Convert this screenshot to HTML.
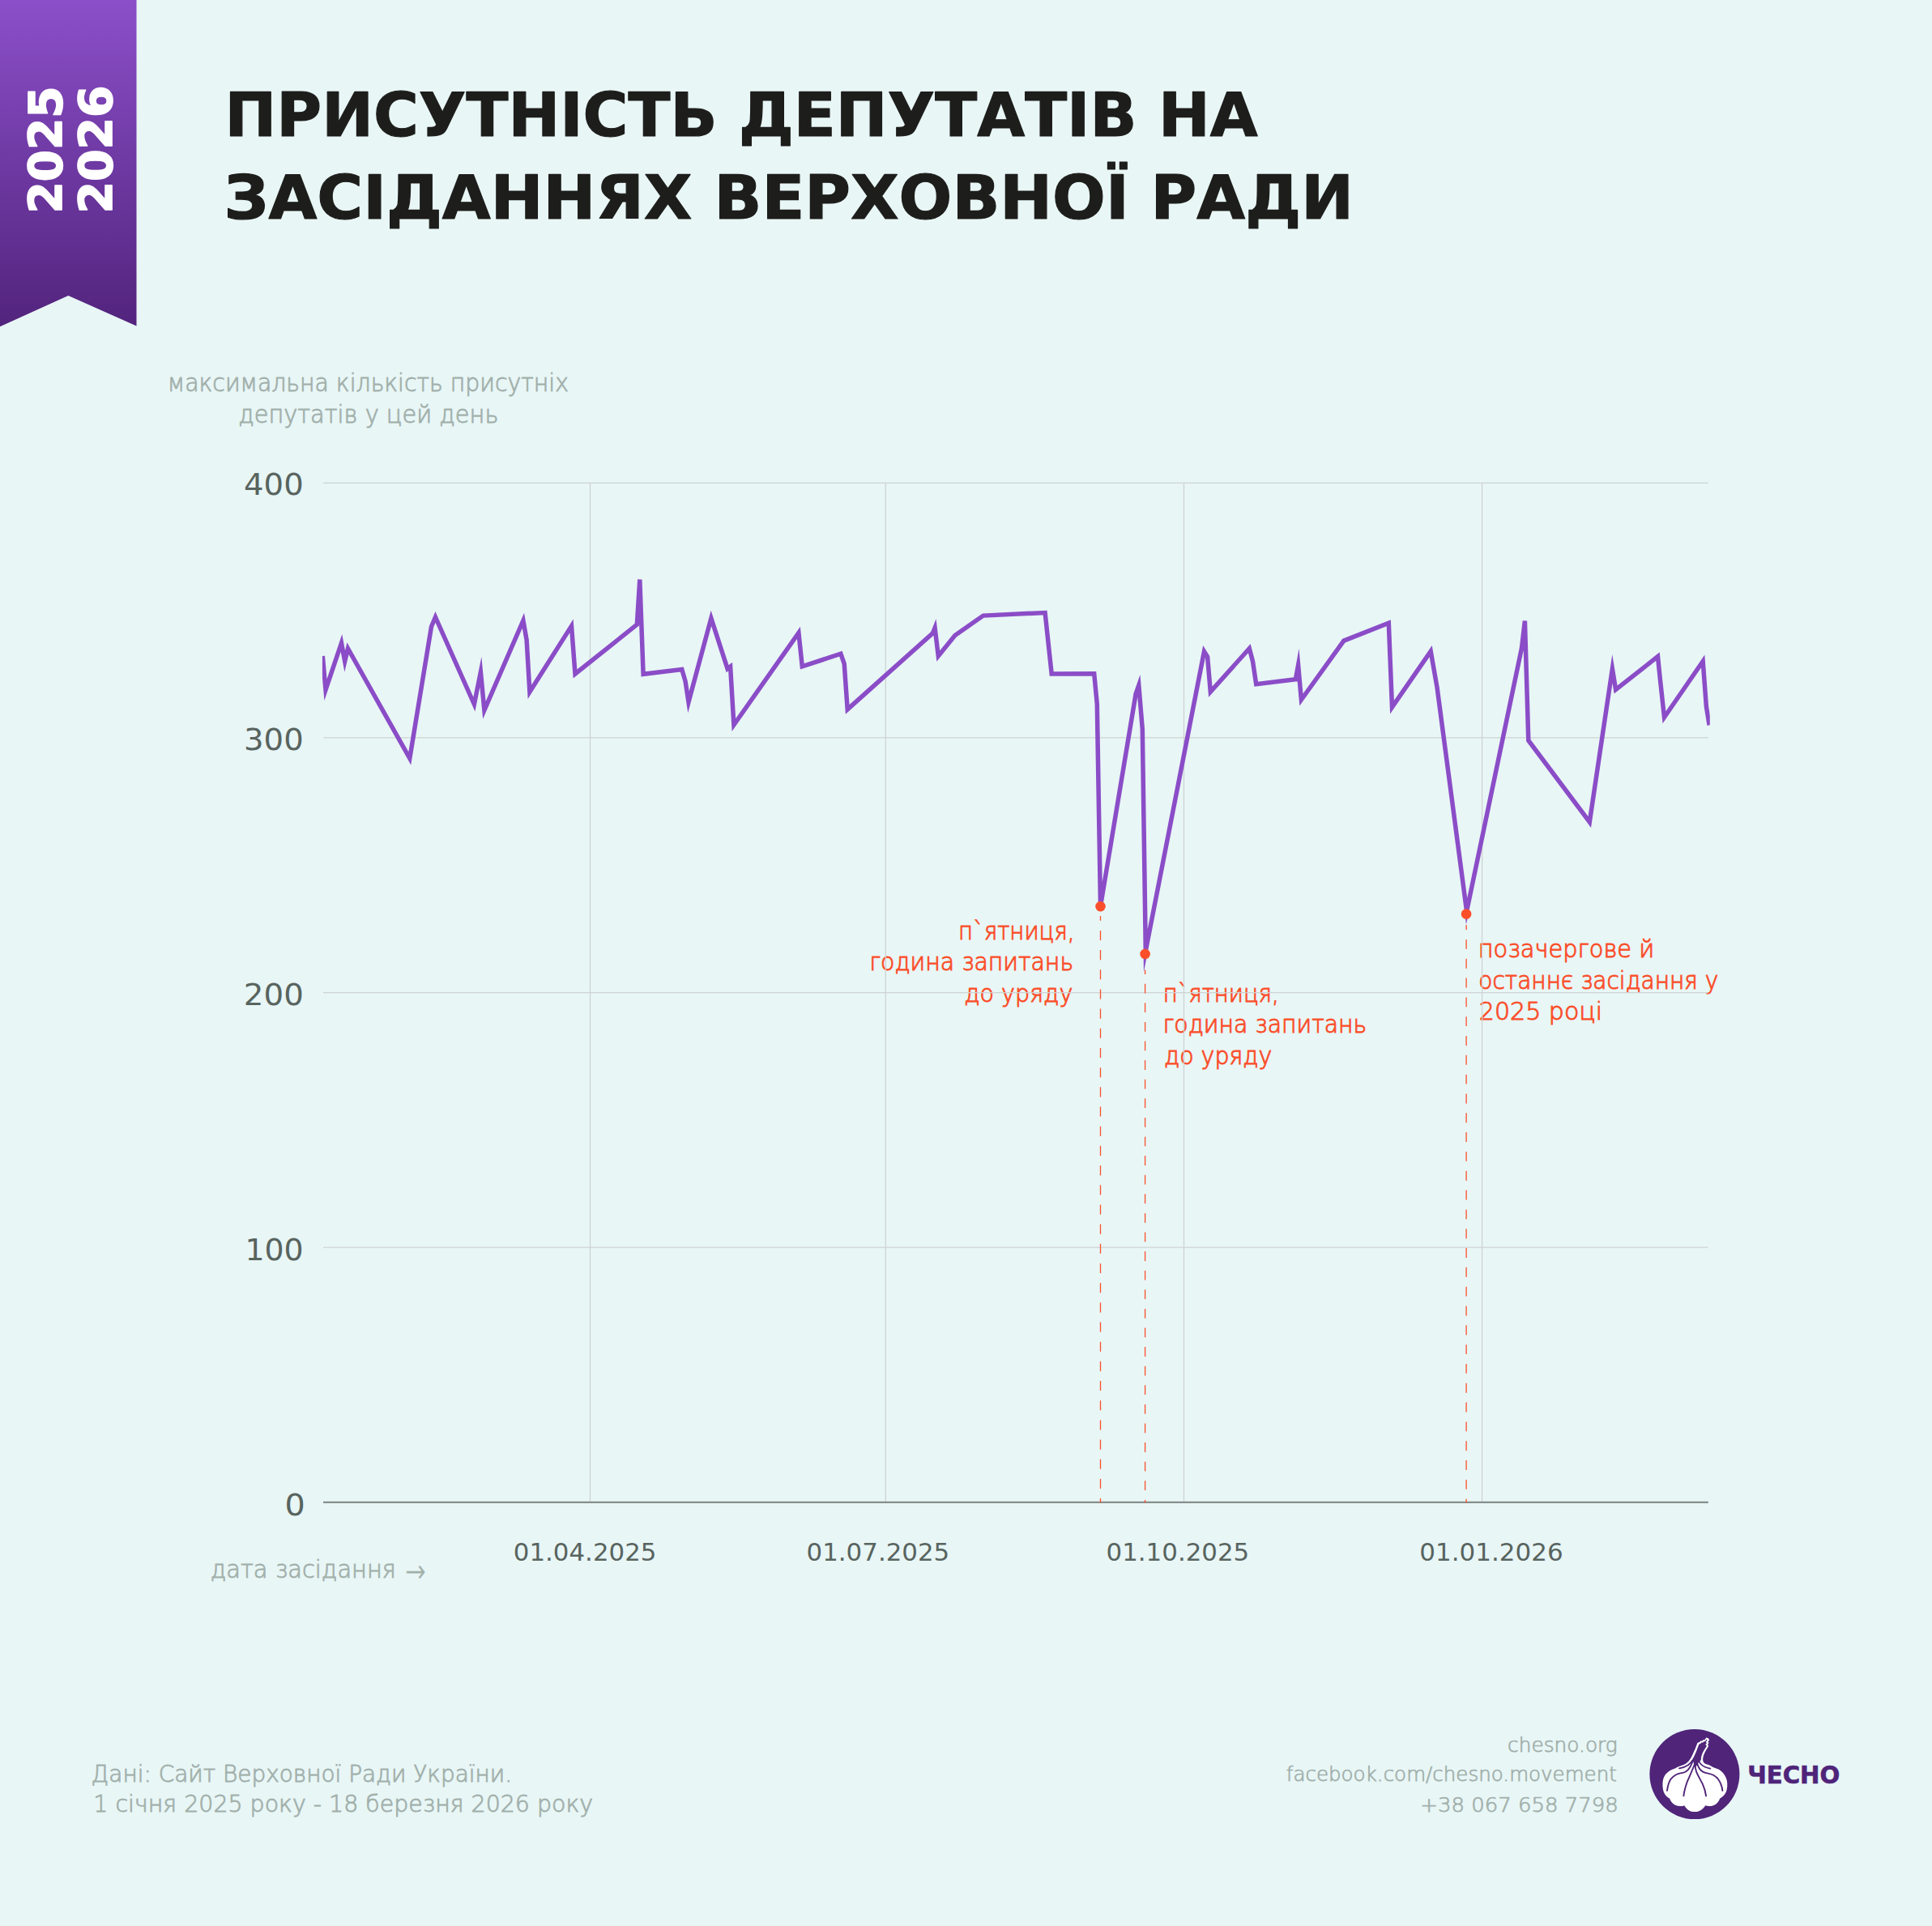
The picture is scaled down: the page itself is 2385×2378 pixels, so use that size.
<!DOCTYPE html>
<html lang="uk"><head><meta charset="utf-8"><title>Присутність депутатів на засіданнях Верховної Ради</title>
<style>html,body{margin:0;padding:0;background:#e8f6f6}body{width:2385px;height:2378px;overflow:hidden}svg{display:block}text{font-family:"DejaVu Sans","Liberation Sans",sans-serif}</style></head><body>
<svg width="2385" height="2378" viewBox="0 0 2385 2378">
<defs><linearGradient id="rg" x1="0" y1="0" x2="0" y2="1"><stop offset="0" stop-color="#8b4fc9"/><stop offset="1" stop-color="#52247d"/></linearGradient><clipPath id="cp"><rect x="397.9" y="500" width="1712.9" height="1400"/></clipPath></defs>
<rect width="2385" height="2378" fill="#e8f6f6"/>
<path d="M0 0H168.5V402.6L84.3 365L0 403.3Z" fill="url(#rg)"/>
<g transform="translate(77.2 263.4) rotate(-90)"><text x="0" y="0" font-size="57.4" font-weight="bold" fill="#fff" stroke="#fff" stroke-width="1.7" stroke-linejoin="round" textLength="157" lengthAdjust="spacingAndGlyphs">2025</text></g>
<g transform="translate(138.6 263.4) rotate(-90)"><text x="0" y="0" font-size="57.4" font-weight="bold" fill="#fff" stroke="#fff" stroke-width="1.7" stroke-linejoin="round" textLength="158" lengthAdjust="spacingAndGlyphs">2026</text></g>
<text x="1183.03" y="1159.80" font-size="30.0" font-weight="200" fill="#fb4f2b" stroke="#fb4f2b" stroke-width="1.00" stroke-linejoin="round" textLength="143.51" lengthAdjust="spacingAndGlyphs">п`ятниця,</text>
<text x="1073.21" y="1198.10" font-size="30.0" font-weight="200" fill="#fb4f2b" stroke="#fb4f2b" stroke-width="1.00" stroke-linejoin="round" textLength="251.88" lengthAdjust="spacingAndGlyphs">година запитань</text>
<text x="1190.13" y="1237.20" font-size="30.0" font-weight="200" fill="#fb4f2b" stroke="#fb4f2b" stroke-width="1.00" stroke-linejoin="round" textLength="134.23" lengthAdjust="spacingAndGlyphs">до уряду</text>
<text x="1435.75" y="1237.00" font-size="30.0" font-weight="200" fill="#fb4f2b" stroke="#fb4f2b" stroke-width="1.00" stroke-linejoin="round" textLength="142.89" lengthAdjust="spacingAndGlyphs">п`ятниця,</text>
<text x="1435.48" y="1274.90" font-size="30.0" font-weight="200" fill="#fb4f2b" stroke="#fb4f2b" stroke-width="1.00" stroke-linejoin="round" textLength="251.74" lengthAdjust="spacingAndGlyphs">година запитань</text>
<text x="1436.88" y="1313.50" font-size="30.0" font-weight="200" fill="#fb4f2b" stroke="#fb4f2b" stroke-width="1.00" stroke-linejoin="round" textLength="133.56" lengthAdjust="spacingAndGlyphs">до уряду</text>
<text x="1824.64" y="1182.20" font-size="30.0" font-weight="200" fill="#fb4f2b" stroke="#fb4f2b" stroke-width="1.00" stroke-linejoin="round" textLength="217.70" lengthAdjust="spacingAndGlyphs">позачергове й</text>
<text x="1825.37" y="1220.50" font-size="30.0" font-weight="200" fill="#fb4f2b" stroke="#fb4f2b" stroke-width="1.00" stroke-linejoin="round" textLength="295.99" lengthAdjust="spacingAndGlyphs">останнє засідання у</text>
<text x="1825.80" y="1259.00" font-size="30.0" font-weight="200" fill="#fb4f2b" stroke="#fb4f2b" stroke-width="1.00" stroke-linejoin="round" textLength="152.29" lengthAdjust="spacingAndGlyphs">2025 році</text>
<line x1="399.0" x2="2108.8" y1="596.40" y2="596.40" stroke="#cfd3d2" stroke-width="1.3"/>
<line x1="399.0" x2="2108.8" y1="910.97" y2="910.97" stroke="#cfd3d2" stroke-width="1.3"/>
<line x1="399.0" x2="2108.8" y1="1225.55" y2="1225.55" stroke="#cfd3d2" stroke-width="1.3"/>
<line x1="399.0" x2="2108.8" y1="1540.12" y2="1540.12" stroke="#cfd3d2" stroke-width="1.3"/>
<line x1="728.5" x2="728.5" y1="596.40" y2="1854.70" stroke="#cfd3d2" stroke-width="1.3"/>
<line x1="1093.3" x2="1093.3" y1="596.40" y2="1854.70" stroke="#cfd3d2" stroke-width="1.3"/>
<line x1="1461.5" x2="1461.5" y1="596.40" y2="1854.70" stroke="#cfd3d2" stroke-width="1.3"/>
<line x1="1829.6" x2="1829.6" y1="596.40" y2="1854.70" stroke="#cfd3d2" stroke-width="1.3"/>
<line x1="399.0" x2="2108.8" y1="1854.80" y2="1854.80" stroke="#868f8c" stroke-width="2.2"/>
<line x1="1358.50" x2="1358.50" y1="1131.00" y2="1855.40" stroke="#fb4f2b" stroke-width="1.3" stroke-dasharray="12.09 12.09" stroke-dashoffset="6.30"/>
<line x1="1413.60" x2="1413.60" y1="1197.50" y2="1855.40" stroke="#fb4f2b" stroke-width="1.3" stroke-dasharray="11.80 11.80" stroke-dashoffset="6.40"/>
<line x1="1810.10" x2="1810.10" y1="1142.00" y2="1855.40" stroke="#fb4f2b" stroke-width="1.3" stroke-dasharray="11.91 11.91" stroke-dashoffset="5.90"/>
<text x="277.59" y="167.50" font-size="74.9" font-weight="bold" fill="#1d1d1b" stroke="#1d1d1b" stroke-width="1.20" stroke-linejoin="round" textLength="1275.15" lengthAdjust="spacingAndGlyphs">ПРИСУТНІСТЬ ДЕПУТАТІВ НА</text>
<text x="276.51" y="270.30" font-size="74.9" font-weight="bold" fill="#1d1d1b" stroke="#1d1d1b" stroke-width="1.20" stroke-linejoin="round" textLength="1394.39" lengthAdjust="spacingAndGlyphs">ЗАСІДАННЯХ ВЕРХОВНОЇ РАДИ</text>
<text x="206.81" y="483.10" font-size="29.6" font-weight="200" fill="#a2b0ab" stroke="#a2b0ab" stroke-width="0.85" stroke-linejoin="round" textLength="495.09" lengthAdjust="spacingAndGlyphs">максимальна кількість присутніх</text>
<text x="294.15" y="522.10" font-size="29.6" font-weight="200" fill="#a2b0ab" stroke="#a2b0ab" stroke-width="0.85" stroke-linejoin="round" textLength="321.29" lengthAdjust="spacingAndGlyphs">депутатів у цей день</text>
<text x="301.09" y="611.45" font-size="37.5" fill="#58645f" textLength="73.60" lengthAdjust="spacingAndGlyphs">400</text>
<text x="301.07" y="926.15" font-size="37.5" fill="#58645f" textLength="73.61" lengthAdjust="spacingAndGlyphs">300</text>
<text x="300.86" y="1241.15" font-size="37.5" fill="#58645f" textLength="73.92" lengthAdjust="spacingAndGlyphs">200</text>
<text x="302.43" y="1556.15" font-size="37.5" fill="#58645f" textLength="72.30" lengthAdjust="spacingAndGlyphs">100</text>
<text x="351.45" y="1871.15" font-size="37.5" fill="#58645f" textLength="25.26" lengthAdjust="spacingAndGlyphs">0</text>
<text x="633.82" y="1927.00" font-size="30.9" fill="#58645f" textLength="176.60" lengthAdjust="spacingAndGlyphs">01.04.2025</text>
<text x="995.55" y="1927.00" font-size="30.9" fill="#58645f" textLength="176.67" lengthAdjust="spacingAndGlyphs">01.07.2025</text>
<text x="1365.55" y="1927.00" font-size="30.9" fill="#58645f" textLength="176.67" lengthAdjust="spacingAndGlyphs">01.10.2025</text>
<text x="1752.29" y="1927.00" font-size="30.9" fill="#58645f" textLength="177.36" lengthAdjust="spacingAndGlyphs">01.01.2026</text>
<text x="259.74" y="1948.40" font-size="29.6" font-weight="200" fill="#a2b0ab" stroke="#a2b0ab" stroke-width="0.85" stroke-linejoin="round" textLength="229.22" lengthAdjust="spacingAndGlyphs">дата засідання</text>
<text x="500.47" y="1952.80" font-size="38.0" font-weight="200" fill="#a2b0ab" stroke="#a2b0ab" stroke-width="0.85" stroke-linejoin="round" textLength="24.86" lengthAdjust="spacingAndGlyphs">→</text>
<text x="112.58" y="2199.60" font-size="28.5" font-weight="200" fill="#a2b0ab" stroke="#a2b0ab" stroke-width="0.85" stroke-linejoin="round" textLength="519.50" lengthAdjust="spacingAndGlyphs">Дані: Сайт Верховної Ради України.</text>
<text x="115.31" y="2236.80" font-size="28.5" font-weight="200" fill="#a2b0ab" stroke="#a2b0ab" stroke-width="0.85" stroke-linejoin="round" textLength="616.86" lengthAdjust="spacingAndGlyphs">1 січня 2025 року - 18 березня 2026 року</text>
<text x="1861.12" y="2163.30" font-size="25.2" font-weight="200" fill="#a2b0ab" stroke="#a2b0ab" stroke-width="0.75" stroke-linejoin="round" textLength="135.56" lengthAdjust="spacingAndGlyphs">chesno.org</text>
<text x="1587.75" y="2198.60" font-size="25.2" font-weight="200" fill="#a2b0ab" stroke="#a2b0ab" stroke-width="0.75" stroke-linejoin="round" textLength="408.14" lengthAdjust="spacingAndGlyphs">facebook.com/chesno.movement</text>
<text x="1753.32" y="2236.60" font-size="25.2" font-weight="200" fill="#a2b0ab" stroke="#a2b0ab" stroke-width="0.75" stroke-linejoin="round" textLength="244.40" lengthAdjust="spacingAndGlyphs">+38 067 658 7798</text>
<text x="2157.20" y="2201.90" font-size="30.8" font-weight="bold" fill="#4f2479" stroke="#4f2479" stroke-width="0.60" stroke-linejoin="round" textLength="114.13" lengthAdjust="spacingAndGlyphs">ЧЕСНО</text>
<polyline clip-path="url(#cp)" fill="none" stroke="#8b4dc7" stroke-width="5.5" stroke-linejoin="miter" stroke-miterlimit="10" points="398.3,809.9 402.0,851.7 421.5,793.9 425.7,816.5 429.5,800.7 505.8,936.4 532.5,773.8 537.5,762.0 585.4,869.6 593.4,829.8 597.9,876.8 645.9,766.2 650.1,790.1 653.9,854.3 705.5,772.9 710.0,832.0 786.3,771.2 789.8,715.5 794.1,832.3 841.8,826.4 846.1,841.3 850.0,866.8 877.9,763.3 898.1,825.7 901.6,823.1 905.9,895.1 985.9,781.4 990.3,822.9 1037.9,807.2 1042.2,819.6 1046.2,875.9 1151.4,781.8 1154.1,775.2 1158.3,810.0 1178.9,784.6 1213.8,760.1 1290.1,756.5 1298.2,832.0 1350.7,831.7 1354.3,869.3 1358.5,1119.1 1402.1,856.8 1405.8,846.2 1410.3,900.3 1414.3,1173.8 1486.5,804.4 1490.6,811.0 1494.3,854.1 1542.3,800.6 1546.5,816.5 1550.7,844.7 1599.4,838.7 1602.6,821.2 1606.4,864.0 1658.9,791.1 1714.3,769.2 1718.5,873.1 1766.2,804.1 1774.1,849.1 1810.6,1125.1 1878.5,800.0 1882.4,766.5 1886.8,914.2 1962.3,1015.0 1990.4,825.8 1994.6,851.5 2046.5,810.6 2049.5,839.7 2054.5,885.7 2102.2,816.5 2106.4,872.4 2110.1,895.4"/>
<circle cx="1358.5" cy="1119.1" r="6.3" fill="#fb4f2b"/>
<circle cx="1413.6" cy="1177.9" r="6.3" fill="#fb4f2b"/>
<circle cx="1810.1" cy="1128.5" r="6.3" fill="#fb4f2b"/>
<circle cx="2091.9" cy="2190.6" r="55.5" fill="#4f2479"/>
<g transform="translate(2036 2135) scale(0.05814)" stroke-linecap="round" stroke-linejoin="round">
<path fill="#fff" d="M1024 286 C994 356 978 416 952 466 C922 536 905 576 870 634 C840 682 815 706 775 730 C725 760 680 774 630 790 C600 800 578 812 555 828 C480 850 400 890 345 960 C300 1020 285 1090 283 1160 C282 1230 290 1290 310 1340 C335 1400 380 1440 430 1470 C450 1530 500 1590 560 1615 C620 1640 690 1640 745 1620 C770 1670 830 1730 900 1748 C950 1760 1000 1758 1040 1745 C1110 1720 1160 1670 1190 1620 C1240 1640 1320 1640 1380 1612 C1440 1585 1480 1530 1500 1470 C1560 1440 1620 1380 1642 1300 C1660 1230 1662 1150 1645 1080 C1625 1000 1580 930 1520 885 C1470 848 1400 825 1345 806 C1300 768 1255 760 1215 745 C1175 730 1152 712 1142 678 C1132 640 1142 590 1157 545 C1177 490 1207 440 1237 395 C1252 370 1257 355 1259 342 L1236 328 L1267 292 L1243 270 L1273 236 C1268 202 1242 180 1210 182 L1186 212 L1174 230 L1148 224 L1124 250 L1088 250 L1066 276 Z"/>
<path fill="#4f2479" d="M1058 318 C1032 380 1014 434 992 486 C962 554 944 594 912 650 C920 662 928 674 932 690 C940 720 950 745 962 770 L985 790 L1015 765 C1030 740 1045 712 1056 682 C1072 690 1090 668 1100 640 C1098 600 1108 568 1120 535 C1140 480 1172 432 1200 388 C1214 365 1220 354 1220 349 L1190 332 L1222 294 L1198 274 L1228 242 C1226 228 1218 220 1212 220 L1204 232 L1186 264 L1160 260 L1140 284 L1104 284 L1086 308 Z"/>
<g fill="none" stroke="#4f2479" stroke-width="33">
<path d="M378 1305 C390 1220 410 1130 460 1055 C520 990 590 945 660 935 C720 930 770 915 815 870 C860 825 895 760 918 685"/>
<path d="M636 832 C704 818 774 795 826 760 C874 725 900 692 916 662" stroke-width="30"/>
<path d="M730 1415 C740 1320 765 1230 800 1130 C840 1030 885 940 915 860 C935 810 950 775 965 740"/>
<path d="M1205 1415 C1195 1330 1170 1250 1130 1160 C1090 1080 1040 1000 1005 920 C985 870 975 810 972 745"/>
<path d="M1555 1305 C1545 1220 1515 1130 1450 1045 C1400 990 1330 955 1250 940 C1180 930 1120 910 1075 850 C1045 810 1030 770 1022 740"/>
<path d="M1296 836 C1226 822 1158 800 1108 756 C1078 726 1064 704 1058 680" stroke-width="30"/>
</g>
</g>

</svg></body></html>
